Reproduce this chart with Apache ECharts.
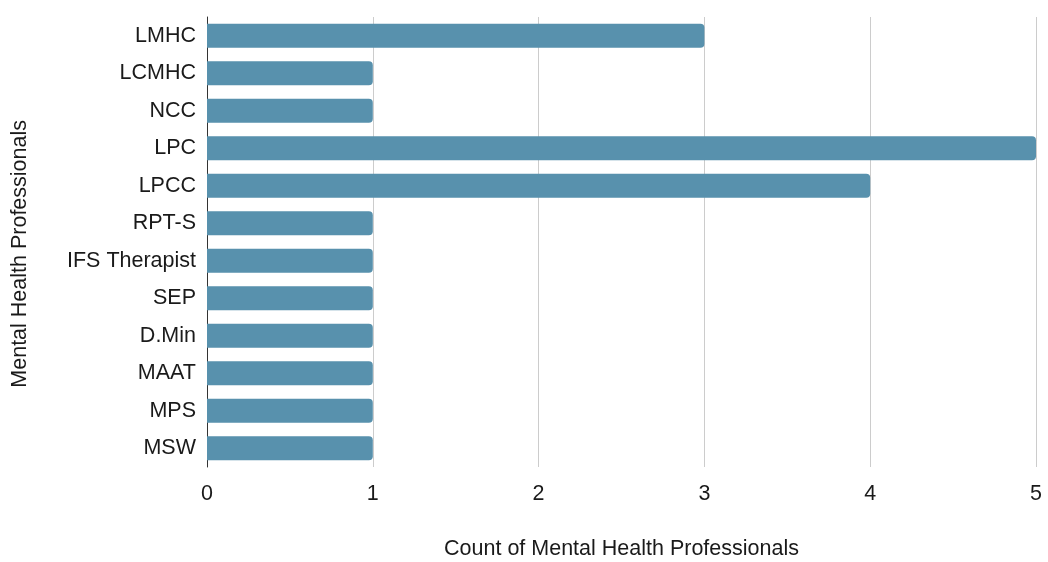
<!DOCTYPE html>
<html>
<head>
<meta charset="utf-8">
<script src="https://cdn.jsdelivr.net/npm/echarts@6/dist/echarts.min.js"></script>
<style>
  html, body { margin: 0; padding: 0; background: #ffffff; }
  #chart { width: 1048px; height: 562px; }
</style>
</head>
<body>
<div id="chart"></div>
<script>
// Credentials listed top to bottom
const categories = ['LMHC', 'LCMHC', 'NCC', 'LPC', 'LPCC', 'RPT-S', 'IFS Therapist', 'SEP', 'D.Min', 'MAAT', 'MPS', 'MSW'];
const counts = [3, 1, 1, 5, 4, 1, 1, 1, 1, 1, 1, 1];
const xTicks = [0, 1, 2, 3, 4, 5];

const chart = echarts.init(document.getElementById('chart'), null, { renderer: 'canvas' });
const font = 'Helvetica, "Liberation Sans", Arial, sans-serif';
const textColor = '#1a1a1a';
const fontSize = 21.5;

chart.setOption({
  animation: false,
  backgroundColor: '#ffffff',
  grid: { left: 207, right: 12, top: 17, bottom: 95, containLabel: false, outerBoundsMode: 'none' },
  xAxis: {
    type: 'value',
    min: xTicks[0],
    max: xTicks[xTicks.length - 1],
    interval: 1,
    name: 'Count of Mental Health Professionals',
    nameLocation: 'middle',
    nameGap: 71,
    nameTextStyle: { fontFamily: font, fontSize: fontSize, color: textColor },
    axisLine: { show: false },
    axisTick: { show: false },
    axisLabel: { fontFamily: font, fontSize: fontSize, color: textColor, margin: 16 },
    splitLine: { show: true, lineStyle: { color: '#cccccc', width: 1 } }
  },
  yAxis: {
    type: 'category',
    data: categories,
    inverse: true,
    axisLine: { show: true, lineStyle: { color: '#333333', width: 1 } },
    axisTick: { show: false },
    axisLabel: { fontFamily: font, fontSize: fontSize, color: textColor, margin: 11, padding: [4, 0, 0, 0] }
  },
  graphic: [{
    type: 'text',
    left: 9,
    top: 120,
    rotation: Math.PI / 2,
    style: {
      text: 'Mental Health Professionals',
      font: fontSize + 'px ' + font,
      fill: textColor
    }
  }],
  series: [{
    type: 'bar',
    data: counts,
    barCategoryGap: '36%',
    itemStyle: { color: '#5891ad', borderRadius: [0, 4, 4, 0] }
  }]
});
</script>
</body>
</html>
